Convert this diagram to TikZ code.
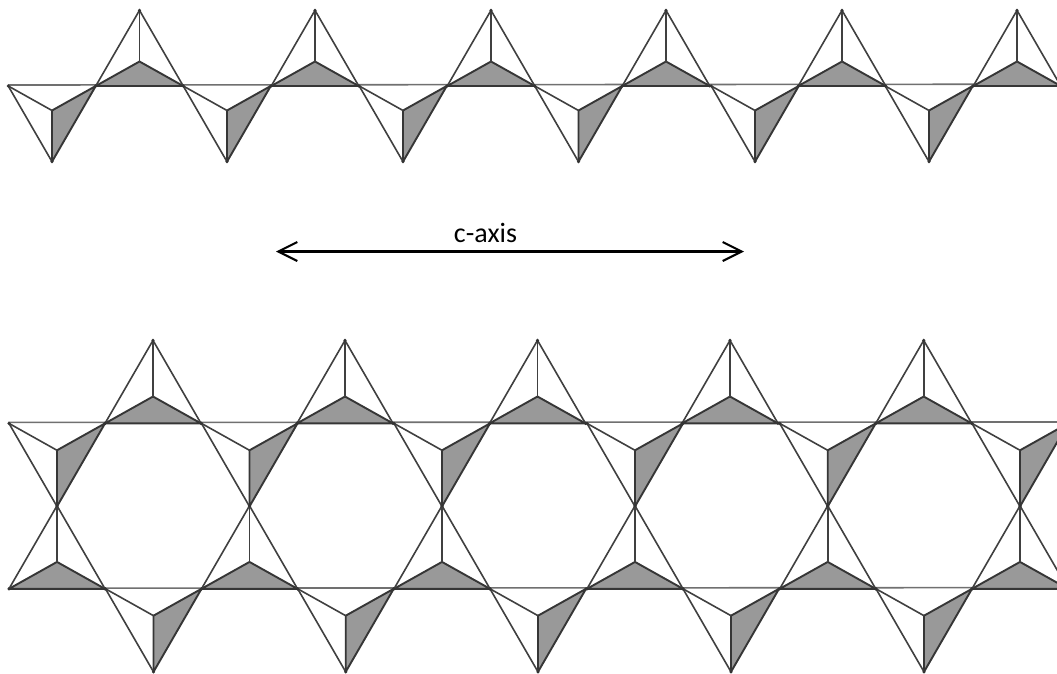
\documentclass[tikz,border=0pt]{standalone}
\usepackage{fontspec}
\setmainfont{Carlito}
\usetikzlibrary{arrows.meta}
\definecolor{edgegray}{HTML}{404040}
\definecolor{facegray}{HTML}{999999}
\tikzset{edge/.style = {draw=edgegray, line width=1.6pt, line join=round}}
\tikzset{face/.style = {fill=facegray, draw=edgegray!85!black, line width=1.9pt, line join=round}}
\tikzset{circ/.style = {fill=black!80, circle, inner sep = 0, minimum size = 3.4pt}}
\tikzset{axisline/.style = {line width=2.1pt, {Straight Barb[length=19pt,width=19pt,line width=2.1pt]}-{Straight Barb[length=19pt,width=19pt,line width=2.1pt]}}}
\tikzset{tetup/.pic = {
    \filldraw[face] (-1,0) -- (0,-.56) -- (1,0) -- cycle;
    \draw[edge] (-1,0) -- (0,-1.73) -- (1,0);
    \draw[edge] (0,-1.73) -- (0,-.56);
    \node[circ] at (0,-1.73) {};
    \node[circ] at (-1,0) {};
    \node[circ] at (1,0) {};
  }}
\tikzset{tetdown/.pic = {
    \filldraw[face] (0,.56) -- (1,0) -- (0,1.73) -- cycle;
    \draw[edge] (-1,0) -- (0,1.73);
    \draw[edge] (-1,0) -- (0,.56);
    \node[circ] at (0,1.73) {};
    \node[circ] at (-1,0) {};
    \node[circ] at (1,0) {};
  }}

\begin{document}
\begin{tikzpicture}[x=1pt,y=-1pt]
      \clip (0,0) rectangle (1057,673);
      \fill[white] (0,0) rectangle (1057,673);

      % upper chain
      \draw[edge,edgegray!75] (8,85) -- (1057,84.2);
      \foreach \x in {139.5,315,491,666,842,1017}
        \pic[scale=43.75] at (\x,86) {tetup};
      \foreach \x in {52,227,403,578.5,755,929}
        \pic[scale=43.75] at (\x,86) {tetdown};

      % axis
      \coordinate (axisleft) at (276,251.5);
      \coordinate (axisright) at (744,251.5);
      \draw[axisline] (axisleft) -- (axisright);
      \node[font=\fontsize{28}{30}\selectfont] (axislabel) at (485.5,232.5) {c-axis};

      % lower chains
      \draw[edge,edgegray!75] (8.5,422.4) -- (1057,422);
      \draw[edge,edgegray!75] (8.5,588.2) -- (1057,587.6);
      \foreach \x in {153,345,537.5,730,923.7}
        \pic[scale=48] at (\x,423.4) {tetup};
      \foreach \x in {57,249.5,442,635,827.7,1020}
        \pic[scale=48] at (\x,423.4) {tetdown};
      \foreach \x in {57,249.5,442,635,827.7,1020}
        \pic[scale=48] at (\x,588.8) {tetup};
      \foreach \x in {153.5,345.7,538,731,924}
        \pic[scale=48] at (\x,588.8) {tetdown};
    \end{tikzpicture}
\end{document}
